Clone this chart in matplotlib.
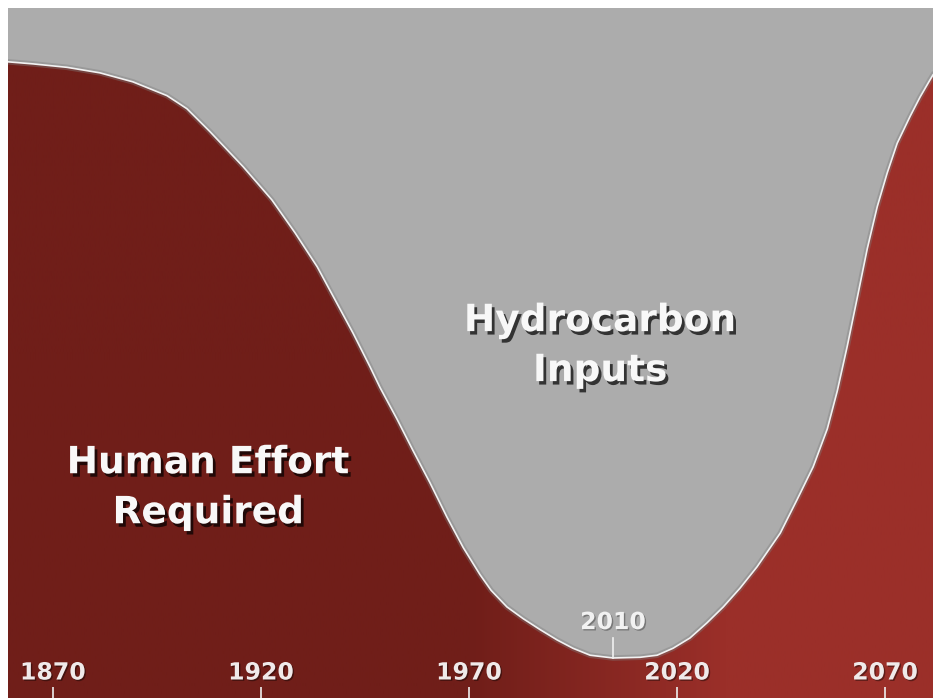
import numpy as np
import matplotlib
matplotlib.use("Agg")
import matplotlib.pyplot as plt
import matplotlib.patheffects as pe
from matplotlib.colors import LinearSegmentedColormap

# curve: year -> share of the height (%) taken by human effort
years = [1859.2, 1865.2, 1873.4, 1881.3, 1889.2, 1897.4, 1902.2, 1907.7, 1915.7,
         1922.6, 1928.2, 1933.5, 1937.8, 1942.1, 1946.2, 1948.6, 1952.7, 1956.5,
         1960.6, 1964.7, 1968.6, 1972.6, 1975.3, 1979.1, 1983.0, 1987.1, 1991.2,
         1995.0, 1999.1, 2004.6, 2011.1, 2015.2, 2019.0, 2023.1, 2027.2, 2031.1,
         2035.1, 2039.2, 2044.8, 2048.8, 2052.7, 2056.1, 2058.5, 2060.9, 2063.3,
         2065.7, 2068.1, 2070.5, 2072.9, 2076.0, 2078.4, 2080.8, 2081.5]
effort = [92.2, 91.9, 91.4, 90.6, 89.3, 87.3, 85.4, 82.1, 77.0,
          72.2, 67.4, 62.5, 57.7, 52.9, 48.0, 45.0, 40.4, 35.9,
          31.2, 26.2, 21.8, 17.9, 15.6, 13.2, 11.5, 9.9, 8.4,
          7.2, 6.2, 5.8, 5.9, 6.2, 7.2, 8.7, 10.9, 13.2,
          15.9, 19.0, 23.9, 28.7, 33.5, 39.0, 44.5, 51.0, 58.0,
          65.1, 71.2, 76.1, 80.4, 84.3, 87.1, 89.6, 90.3]
tick_years = [1870, 1920, 1970, 2020, 2070]
marker_label = "2010"

x_min, x_max = 1859.2, 2081.5

fig = plt.figure(figsize=(9.33, 6.98), dpi=100, facecolor="white")
ax = fig.add_axes([8 / 933, 0, 925 / 933, 690 / 698])
ax.set_facecolor("#acacac")
ax.set_xlim(x_min, x_max)
ax.set_ylim(0, 100)

# red area with a left-to-right gradient, clipped to the area under the curve
area = ax.fill_between(years, 0, effort, color="none", lw=0)
red = LinearSegmentedColormap.from_list("red", ["#701e19", "#9b2f29"])
xs = np.linspace(x_min, x_max, 600)
grad = np.clip((xs - 1970) / (2032 - 1970), 0, 1)[None, :]
img = ax.imshow(grad, cmap=red, aspect="auto", extent=[x_min, x_max, 0, 100],
                origin="lower", zorder=1)
img.set_clip_path(area.get_paths()[0], transform=ax.transData)

# edge line with soft shadow
ax.plot(years, effort, color="#7e7e7e", lw=4, alpha=0.4, zorder=2,
        solid_joinstyle="round")
ax.plot(years, effort, color="#f2f2f2", lw=1.2, zorder=3, solid_joinstyle="round")


def label(x, y, s):
    t = ax.text(x, y, s, ha="center", va="center", fontsize=27, color="#f8f8f8",
                fontweight="bold", linespacing=1.5, zorder=5)
    t.set_path_effects([pe.SimplePatchShadow(offset=(2, -2.5), shadow_rgbFace="black", alpha=0.7),
                        pe.Normal()])
    return t


label(2001.5, 51.0, "Hydrocarbon\nInputs")
label(1907.3, 30.4, "Human Effort\nRequired")

# the marker at the lowest point of the curve
i_min = int(np.argmin(effort))
m_year = years[i_min]
ax.plot([m_year, m_year], [effort[i_min], effort[i_min] + 2.9], color="#f0f0f0", lw=1.2, zorder=4)
t = ax.text(m_year, 11.0, marker_label, ha="center", va="center", fontsize=17,
            fontweight="bold", color="#f2f2f2", zorder=5)
t.set_path_effects([pe.SimplePatchShadow(offset=(1, -1), shadow_rgbFace="black", alpha=0.3), pe.Normal()])

# bottom ticks drawn inside the plot
ax.set_xticks(tick_years)
ax.set_xticklabels([str(y) for y in tick_years], fontweight="bold")
ax.tick_params(axis="x", direction="in", length=8, width=1.2, color="#eeeeee",
               pad=-27, labelsize=17, labelcolor="#f0eaea")
for lab in ax.get_xticklabels():
    lab.set_path_effects([pe.SimplePatchShadow(offset=(1, -1), shadow_rgbFace="black", alpha=0.4), pe.Normal()])
ax.set_yticks([])
for s in ax.spines.values():
    s.set_visible(False)

fig.savefig("out.png", dpi=100, facecolor="white")
